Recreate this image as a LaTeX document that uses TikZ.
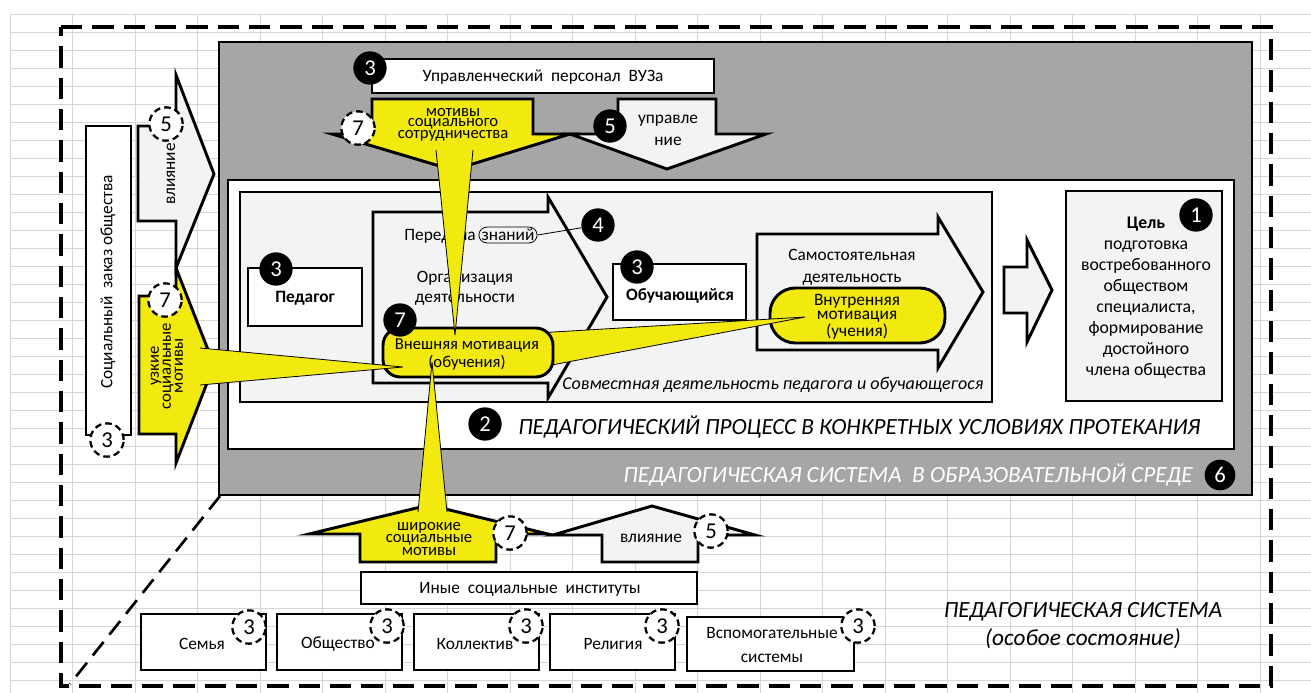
\documentclass[tikz,border=0pt]{standalone}
\usepackage{fontspec}
\setmainfont{Carlito}
\definecolor{yel}{RGB}{242,233,14}
\definecolor{lgt}{RGB}{242,243,245}
\definecolor{gry}{RGB}{166,166,166}
\definecolor{gridc}{RGB}{214,214,214}
\newcommand{\fsz}[2]{\fontsize{#1}{#2}\selectfont}
\begin{document}
\begin{tikzpicture}[x=0.75pt,y=-0.75pt,
  every node/.style={inner sep=0pt, font=\fsz{13}{15.5}},
  frame/.style={draw=black, line width=2.2pt, line join=miter},
  badge/.style={circle, fill=black, text=white, minimum size=25pt, font=\fsz{17}{17}},
  dbadge/.style={circle, draw=black, fill=white, line width=1.7pt, dash pattern=on 5pt off 3pt, minimum size=25pt, font=\fsz{17}{17}},
  wedgeedge/.style={draw=black, line width=0.6pt},
  outerdash/.style={draw=black, line width=2.4pt, dash pattern=on 16pt off 7.5pt},
  gridline/.style={draw=gridc, line width=0.75pt},
  bigital/.style={font=\fsz{17.4}{21}\itshape},
]
\useasboundingbox (0,0) rectangle (1311,693);
\fill[white] (0,0) rectangle (1311,693);
% spreadsheet grid
\foreach \i in {0,...,20} \draw[gridline] ({10+62.5*\i},14) -- ({10+62.5*\i},693);
\foreach \j in {0,...,37} \draw[gridline] (10,{14+18*\j}) -- (1311,{14+18*\j});

% outer dashed frame
\draw[outerdash] (61,27) -- (1271,27) -- (1271,686) -- (61,686) -- cycle;
\draw[draw=black, line width=2pt, dash pattern=on 13pt off 7pt] (220,496) -- (70,684);

% social order box
\draw[frame, fill=white] (86,126) rectangle (131,435);
\node[rotate=90] (zakaz) at (108,282) {Социальный\ \ заказ общества};
\node[dbadge] (d3z) at (107,440) {3};

% influence arrow (left)
\draw[frame, fill=lgt] (138,126) -- (176,126) -- (176,75) -- (214,174) -- (176,268) -- (176,221) -- (138,221) -- cycle;
\node[rotate=90] (vl1) at (171,174) {влияние};
\node[dbadge] (d5l) at (166,124) {5};
% narrow social motives arrow
\draw[frame, fill=yel] (139,296) -- (176,296) -- (176,268) -- (214,365) -- (176,463) -- (176,434) -- (139,434) -- cycle;
\node[rotate=90, align=center, font=\fsz{12.5}{9}] (uzk) at (167,366) {узкие\\социальные\\мотивы};
\node[dbadge] (d7l) at (165,300) {7};

% grey system box
\draw[frame, fill=gry] (219,42) rectangle (1252,495);
% white process box
\draw[frame, fill=white] (228,180) rectangle (1234,449);
% light joint activity box
\draw[frame, fill=lgt] (240,192) rectangle (992,402);
% goal box
\draw[frame, fill=lgt] (1066,191) rectangle (1222,401);
\node[align=center, font=\fsz{13.3}{15.75}] (goal) at (1146,298) {\textbf{Цель}\\подготовка\\востребованного\\обществом\\специалиста,\\формирование\\достойного\\члена общества};
\node[badge] (b1) at (1196,215) {1};

% teacher
\draw[frame, fill=white] (248,268) rectangle (362,326);
\node[font=\fsz{13}{15.5}\bfseries] (ped) at (305,298) {Педагог};
\node[badge] (b3p) at (276,269) {3};

% transfer arrow
\draw[frame, fill=lgt] (373,212) -- (548,212) -- (548,197) -- (607,297) -- (548,398) -- (548,383) -- (373,383) -- cycle;
\node[anchor=base east] (pered) at (476,240) {Передача};
\node[draw=black, line width=0.6pt, rounded corners=6pt, inner xsep=2pt, inner ysep=1.5pt] (znan) at (508,235) {знаний};
\node[align=center, font=\fsz{13}{15}] (org) at (465,288) {Организация\\деятельности};
\node[badge] (b4) at (598,225) {4};
\draw[line width=0.6pt] (znan.east) -- (b4);

% learner
\draw[frame, fill=white] (613,264) rectangle (746,320);
\node[font=\fsz{13}{15.5}\bfseries] (obuch) at (680,296) {Обучающийся};
\node[badge] (b3o) at (637,267) {3};

% independent activity arrow
\draw[frame, fill=lgt] (757,234) -- (938,234) -- (938,217) -- (983,292) -- (938,368) -- (938,350) -- (757,350) -- cycle;
\node[align=center, font=\fsz{13}{16.5}] (samo) at (852,267) {Самостоятельная\\деятельность};
% small arrow to goal
\draw[frame, fill=lgt] (1004,267) -- (1027,267) -- (1027,240) -- (1052,290) -- (1027,342) -- (1027,313) -- (1004,313) -- cycle;

% inner motivation bubble
\draw[frame, fill=yel, rounded corners=19pt] (770,288) rectangle (945,343);

\node[font=\fsz{13.5}{16}\itshape, anchor=west] (sovm) at (562,385) {Совместная деятельность педагога и обучающегося};
\node[badge] (b2) at (485,424) {2};
\node[bigital, anchor=west] (proc) at (518,427) {ПЕДАГОГИЧЕСКИЙ ПРОЦЕСС В КОНКРЕТНЫХ УСЛОВИЯХ ПРОТЕКАНИЯ};
\node[bigital, text=white, anchor=east] (sys) at (1193,475) {ПЕДАГОГИЧЕСКАЯ СИСТЕМА\ \ В ОБРАЗОВАТЕЛЬНОЙ СРЕДЕ};
\node[badge, minimum size=23pt] (b6) at (1220,475) {6};

% management staff
\draw[frame, fill=white] (372,59) rectangle (714,93);
\node (upr) at (543,77) {Управленческий\ \ персонал\ \ ВУЗа};
\node[badge] (b3u) at (370,68) {3};
% social cooperation motives (down arrow)
\draw[frame, fill=yel] (372,99) -- (533,99) -- (533,134) -- (570,134) -- (453,170) -- (332,134) -- (372,134) -- cycle;
% management arrow
\draw[frame, fill=lgt] (618,99) -- (716,99) -- (716,134) -- (766,134) -- (667,169) -- (570,134) -- (618,134) -- cycle;
\node[align=center, font=\fsz{13}{16.5}] (uprl) at (668,130) {управле\\ние};
\node[badge] (b5u) at (610,126) {5};

% bottom: broad social motives
\draw[frame, fill=yel] (360,562) -- (360,534) -- (309,534) -- (429,505) -- (548,534) -- (496,534) -- (496,562) -- cycle;
\draw[frame, fill=lgt] (602,562) -- (602,535) -- (553,535) -- (652,506) -- (755,535) -- (698,535) -- (698,562) -- cycle;
\node (vl2) at (651,538) {влияние};
\node[dbadge] (d5b) at (711,531) {5};

% other institutions
\draw[frame, fill=white] (361,572) rectangle (697,604);
\node (inye) at (530,589) {Иные\ \ социальные\ \ институты};
\draw[frame, fill=white] (141,614) rectangle (266,670);
\node (sem) at (202,644) {Семья};
\node[dbadge] (d3a) at (249,627) {3};
\draw[frame, fill=white] (277,614) rectangle (402,670);
\node (obsh) at (338,644) {Общество};
\node[dbadge] (d3b) at (387,626) {3};
\draw[frame, fill=white] (414,614) rectangle (539,670);
\node (koll) at (475,644) {Коллектив};
\node[dbadge] (d3c) at (526,626) {3};
\draw[frame, fill=white] (550,614) rectangle (675,670);
\node (rel) at (613,644) {Религия};
\node[dbadge] (d3d) at (662,626) {3};
\draw[frame, fill=white] (687,617) rectangle (854,671);
\node[align=center, font=\fsz{13}{18}] (vsp) at (772,645) {Вспомогательные\\системы};
\node[dbadge] (d3e) at (858,626) {3};

\node[bigital, align=center] (ps) at (1083,626) {ПЕДАГОГИЧЕСКАЯ СИСТЕМА\\(особое состояние)};

% wedge outer -> inner motivation (under outer bubble)
\fill[yel] (520,334) -- (805,317) -- (520,371) -- cycle;
\draw[wedgeedge] (520,334) -- (805,317) -- (520,371);
% outer motivation bubble
\draw[frame, fill=yel, rounded corners=13pt] (383,328) rectangle (553,377);
% wedges pointing into the outer motivation bubble
\fill[yel] (200,348) -- (403,367) -- (200,385) -- cycle;
\draw[wedgeedge] (200,348) -- (403,367) -- (200,385);
\fill[yel] (436,150) -- (455,335) -- (473,150) -- cycle;
\draw[wedgeedge] (436,150) -- (455,335) -- (473,150);
\fill[yel] (418,512) -- (432,362) -- (447,512) -- cycle;
\draw[wedgeedge] (418,512) -- (432,362) -- (447,512);

% texts on top of the wedges
\node[align=center, font=\fsz{12.5}{7.5}] (sotr) at (453,125) {мотивы\\социального\\сотрудничества};
\node[dbadge] (d7t) at (358,128) {7};
\node[align=center, font=\fsz{12.5}{7.5}] (shir) at (429,539) {широкие\\социальные\\мотивы};
\node[dbadge] (d7b) at (510,533) {7};
\node[align=center, font=\fsz{12.5}{13.5}] (vnesh) at (467,354) {Внешняя мотивация\\(обучения)};
\node[badge] (b7) at (400,320) {7};
\node[align=center, font=\fsz{13}{10.5}] (vnutr) at (857,317) {Внутренняя\\мотивация\\(учения)};
\end{tikzpicture}
\end{document}
